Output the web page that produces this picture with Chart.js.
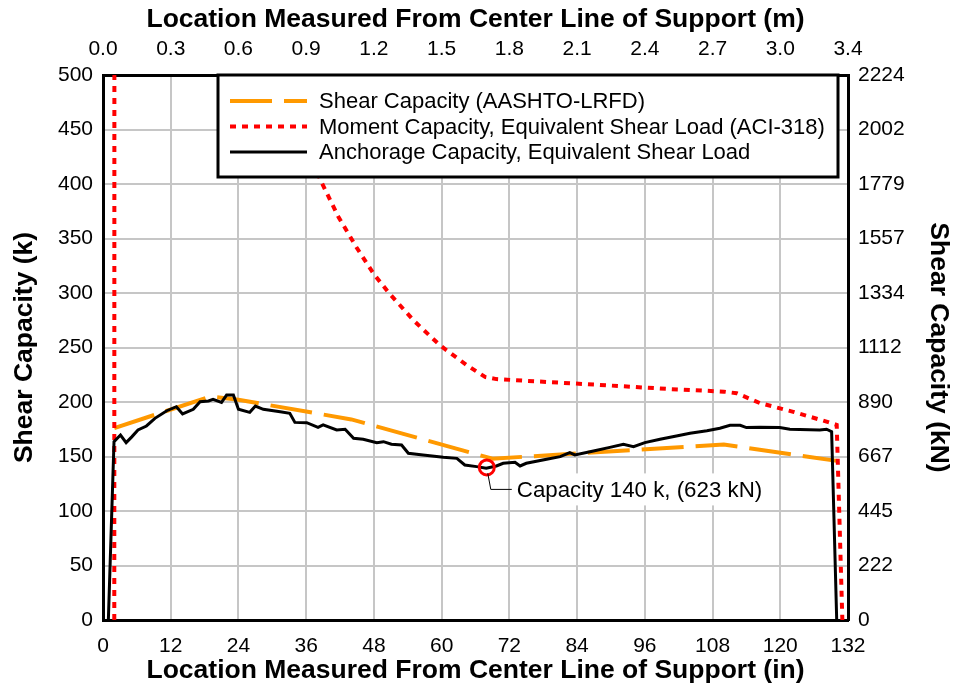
<!DOCTYPE html>
<html>
<head>
<meta charset="utf-8">
<script src="https://cdn.jsdelivr.net/npm/chart.js@4.4.1/dist/chart.umd.min.js"></script>
<style>
  html, body { margin: 0; padding: 0; background: #fff; }
  #wrap { width: 954px; height: 687px; }
</style>
</head>
<body>
<div id="wrap"><canvas id="chart"></canvas></div>
<script>
// axis ticks (bottom in inches, top in metres, left kips, right kN)
const inchTicks = [0, 12, 24, 36, 48, 60, 72, 84, 96, 108, 120, 132];
const meterLabels = ['0.0', '0.3', '0.6', '0.9', '1.2', '1.5', '1.8', '2.1', '2.4', '2.7', '3.0', '3.4'];
const kipTicks = [0, 50, 100, 150, 200, 250, 300, 350, 400, 450, 500];
const kNLabels = ['0', '222', '445', '667', '890', '1112', '1334', '1557', '1779', '2002', '2224'];

// Shear Capacity (AASHTO-LRFD)
const shearX = [2, 19, 24, 44, 69, 110, 130];
const shearY = [176, 205, 202, 184, 148, 161, 146];

// Moment Capacity, Equivalent Shear Load (ACI-318) - runs off the top near the support
const momentX = [2, 2.1, 10, 20, 30, 34, 38.4, 41.7, 44.9, 47.9, 50.5, 55, 59.7, 64.4, 67.7, 69.7, 87, 100, 110, 112.3, 116.4, 122.3, 128.2, 130, 131];
const momentY = [0, 3000, 1400, 800, 560, 470, 405, 370, 342, 318, 301, 275, 252, 234, 223, 221, 216, 212, 209.5, 208, 199, 191, 182, 179, 0];

// Anchorage Capacity, Equivalent Shear Load
const anchorX = [0.95, 1.95, 3.1, 4.1, 5.1, 6.2, 7.7, 9.2, 11.3, 13, 14.1, 16, 17.2, 18.7, 19.5, 21, 21.9, 23.1, 24, 26, 27, 28.4, 31.4, 33.1, 34, 36.1, 38.1, 39, 41.4, 42.9, 44.4, 46.1, 48.5, 49.7, 51.1, 52.9, 54.1, 56.7, 60.3, 62.7, 64.1, 66.2, 67.9, 69.7, 70.9, 73, 73.9, 75, 78.6, 81, 82.7, 83.6, 86.9, 89.8, 92.2, 94, 96, 98.7, 101.6, 104, 107, 109.3, 111.1, 112.9, 114, 116.4, 119.9, 121.7, 127, 128.2, 129.1, 130];
const anchorY = [0, 163.6, 169.7, 162.7, 168, 174.3, 178, 185, 192, 195.7, 189, 193.3, 200.3, 201, 202.5, 199.7, 206.4, 206.4, 193.3, 190.5, 196.3, 193.3, 191, 189.6, 181.3, 181, 176.8, 179, 174.3, 175, 166.7, 165.8, 162.7, 163.6, 161.2, 160.6, 153, 151.4, 149.3, 148.3, 142.2, 140.7, 139.2, 141.3, 143.8, 144.7, 141.3, 143.8, 147.5, 149.9, 153.5, 151.4, 155, 158.4, 161.2, 159, 162.7, 165.8, 168.8, 171.3, 173.7, 175.9, 178.6, 178.6, 176.5, 176.8, 176.5, 175, 174.3, 175, 172.8, 0];

// governing capacity callout
const calloutX = 68;
const calloutY = 140;
const calloutText = 'Capacity 140 k, (623 kN)';

const pts = (xs, ys) => xs.map((x, i) => ({ x, y: ys[i] }));

const FONT = '"Liberation Sans", Arial, sans-serif';
const GRID = '#c6c6c6';

// legend drawn inside the plot, over the lines
const legendBox = {
  id: 'legendBox',
  afterDatasetsDraw(chart) {
    const { ctx, chartArea: a } = chart;
    const x0 = a.left + 115, x1 = a.right - 10, y0 = a.top, y1 = a.top + 102;
    ctx.save();
    ctx.fillStyle = '#fff';
    ctx.fillRect(x0, y0, x1 - x0, y1 - y0);
    ctx.lineWidth = 3;
    ctx.strokeStyle = '#000';
    ctx.strokeRect(x0, y0, x1 - x0, y1 - y0);
    [0, 1, 2].forEach((di, r) => {
      const ds = chart.data.datasets[di];
      const y = y0 + 26 + r * 25.5;
      ctx.beginPath();
      ctx.setLineDash(ds.borderDash || []);
      ctx.lineWidth = ds.borderWidth;
      ctx.strokeStyle = ds.borderColor;
      ctx.moveTo(x0 + 12, y);
      ctx.lineTo(x0 + 89, y);
      ctx.stroke();
      ctx.setLineDash([]);
      ctx.fillStyle = '#000';
      ctx.font = '22px ' + FONT;
      ctx.textBaseline = 'middle';
      ctx.fillText(ds.label, x0 + 101, y + 1);
    });
    ctx.restore();
  }
};

// leader line and label for the governing point
const callout = {
  id: 'callout',
  afterDatasetsDraw(chart) {
    const { ctx } = chart;
    const px = chart.scales.x.getPixelForValue(calloutX);
    const py = chart.scales.y.getPixelForValue(calloutY);
    ctx.save();
    ctx.font = '22.3px ' + FONT;
    const w = ctx.measureText(calloutText).width;
    ctx.fillStyle = '#fff';
    ctx.fillRect(px + 25, py + 6, w + 12, 32);
    ctx.strokeStyle = '#000';
    ctx.lineWidth = 1;
    ctx.beginPath();
    ctx.moveTo(px + 1, py + 6);
    ctx.lineTo(px + 4, py + 22);
    ctx.lineTo(px + 25, py + 22);
    ctx.stroke();
    ctx.fillStyle = '#000';
    ctx.textBaseline = 'middle';
    ctx.fillText(calloutText, px + 30, py + 23);
    ctx.restore();
  }
};

const tickFont = { family: FONT, size: 21 };
const titleFont = { family: FONT, size: 26.5, weight: 'bold' };

new Chart(document.getElementById('chart'), {
  type: 'scatter',
  data: {
    datasets: [
      {
        label: 'Shear Capacity (AASHTO-LRFD)',
        data: pts(shearX, shearY),
        showLine: true,
        borderColor: '#ff9900',
        borderWidth: 4,
        borderDash: [42, 12],
        pointRadius: 0,
        order: 3
      },
      {
        label: 'Moment Capacity, Equivalent Shear Load (ACI-318)',
        data: pts(momentX, momentY),
        showLine: true,
        borderColor: '#ff0000',
        borderWidth: 4,
        borderDash: [6, 6],
        pointRadius: 0,
        order: 2
      },
      {
        label: 'Anchorage Capacity, Equivalent Shear Load',
        data: pts(anchorX, anchorY),
        showLine: true,
        borderColor: '#000000',
        borderWidth: 3,
        pointRadius: 0,
        order: 1
      },
      {
        label: 'governing',
        data: [{ x: calloutX, y: calloutY }],
        pointRadius: 7.5,
        pointBorderWidth: 3,
        pointBorderColor: '#ff0000',
        pointBackgroundColor: 'rgba(0,0,0,0)',
        order: 0
      }
    ]
  },
  options: {
    responsive: true,
    maintainAspectRatio: false,
    animation: false,
    layout: { padding: 0 },
    plugins: { legend: { display: false }, tooltip: { enabled: false } },
    scales: {
      x: {
        type: 'linear', position: 'bottom', min: 0, max: 132,
        afterFit: (s) => { s.height = 67; },
        ticks: { stepSize: 12, font: tickFont, color: '#000', padding: 14, maxRotation: 0 },
        grid: { color: GRID, lineWidth: 2, drawTicks: false },
        border: { color: '#000', width: 3 },
        title: { display: true, text: 'Location Measured From Center Line of Support (in)', font: titleFont, color: '#000', padding: 0 }
      },
      x2: {
        type: 'linear', position: 'top', min: 0, max: 132,
        afterFit: (s) => { s.height = 75; },
        afterBuildTicks: (s) => { s.ticks = inchTicks.map(v => ({ value: v })); },
        ticks: { font: tickFont, color: '#000', padding: 13, maxRotation: 0,
          callback: (v) => meterLabels[inchTicks.indexOf(v)] },
        grid: { display: false, drawTicks: false },
        border: { color: '#000', width: 3 },
        title: { display: true, text: 'Location Measured From Center Line of Support (m)', font: titleFont, color: '#000', padding: { top: 4 } }
      },
      y: {
        type: 'linear', position: 'left', min: 0, max: 500,
        afterFit: (s) => { s.width = 103; },
        ticks: { stepSize: 50, font: tickFont, color: '#000', padding: 10 },
        grid: { color: GRID, lineWidth: 2, drawTicks: false },
        border: { color: '#000', width: 3 },
        title: { display: true, text: 'Shear Capacity (k)', font: titleFont, color: '#000', padding: { top: 9 } }
      },
      y2: {
        type: 'linear', position: 'right', min: 0, max: 500,
        afterFit: (s) => { s.width = 106; },
        afterBuildTicks: (s) => { s.ticks = kipTicks.map(v => ({ value: v })); },
        ticks: { font: tickFont, color: '#000', padding: 10,
          callback: (v) => kNLabels[kipTicks.indexOf(v)] },
        grid: { display: false, drawTicks: false },
        border: { color: '#000', width: 3 },
        title: { display: true, text: 'Shear Capacity (kN)', font: titleFont, color: '#000', padding: { top: 0 } }
      }
    }
  },
  plugins: [legendBox, callout]
});
</script>
</body>
</html>
